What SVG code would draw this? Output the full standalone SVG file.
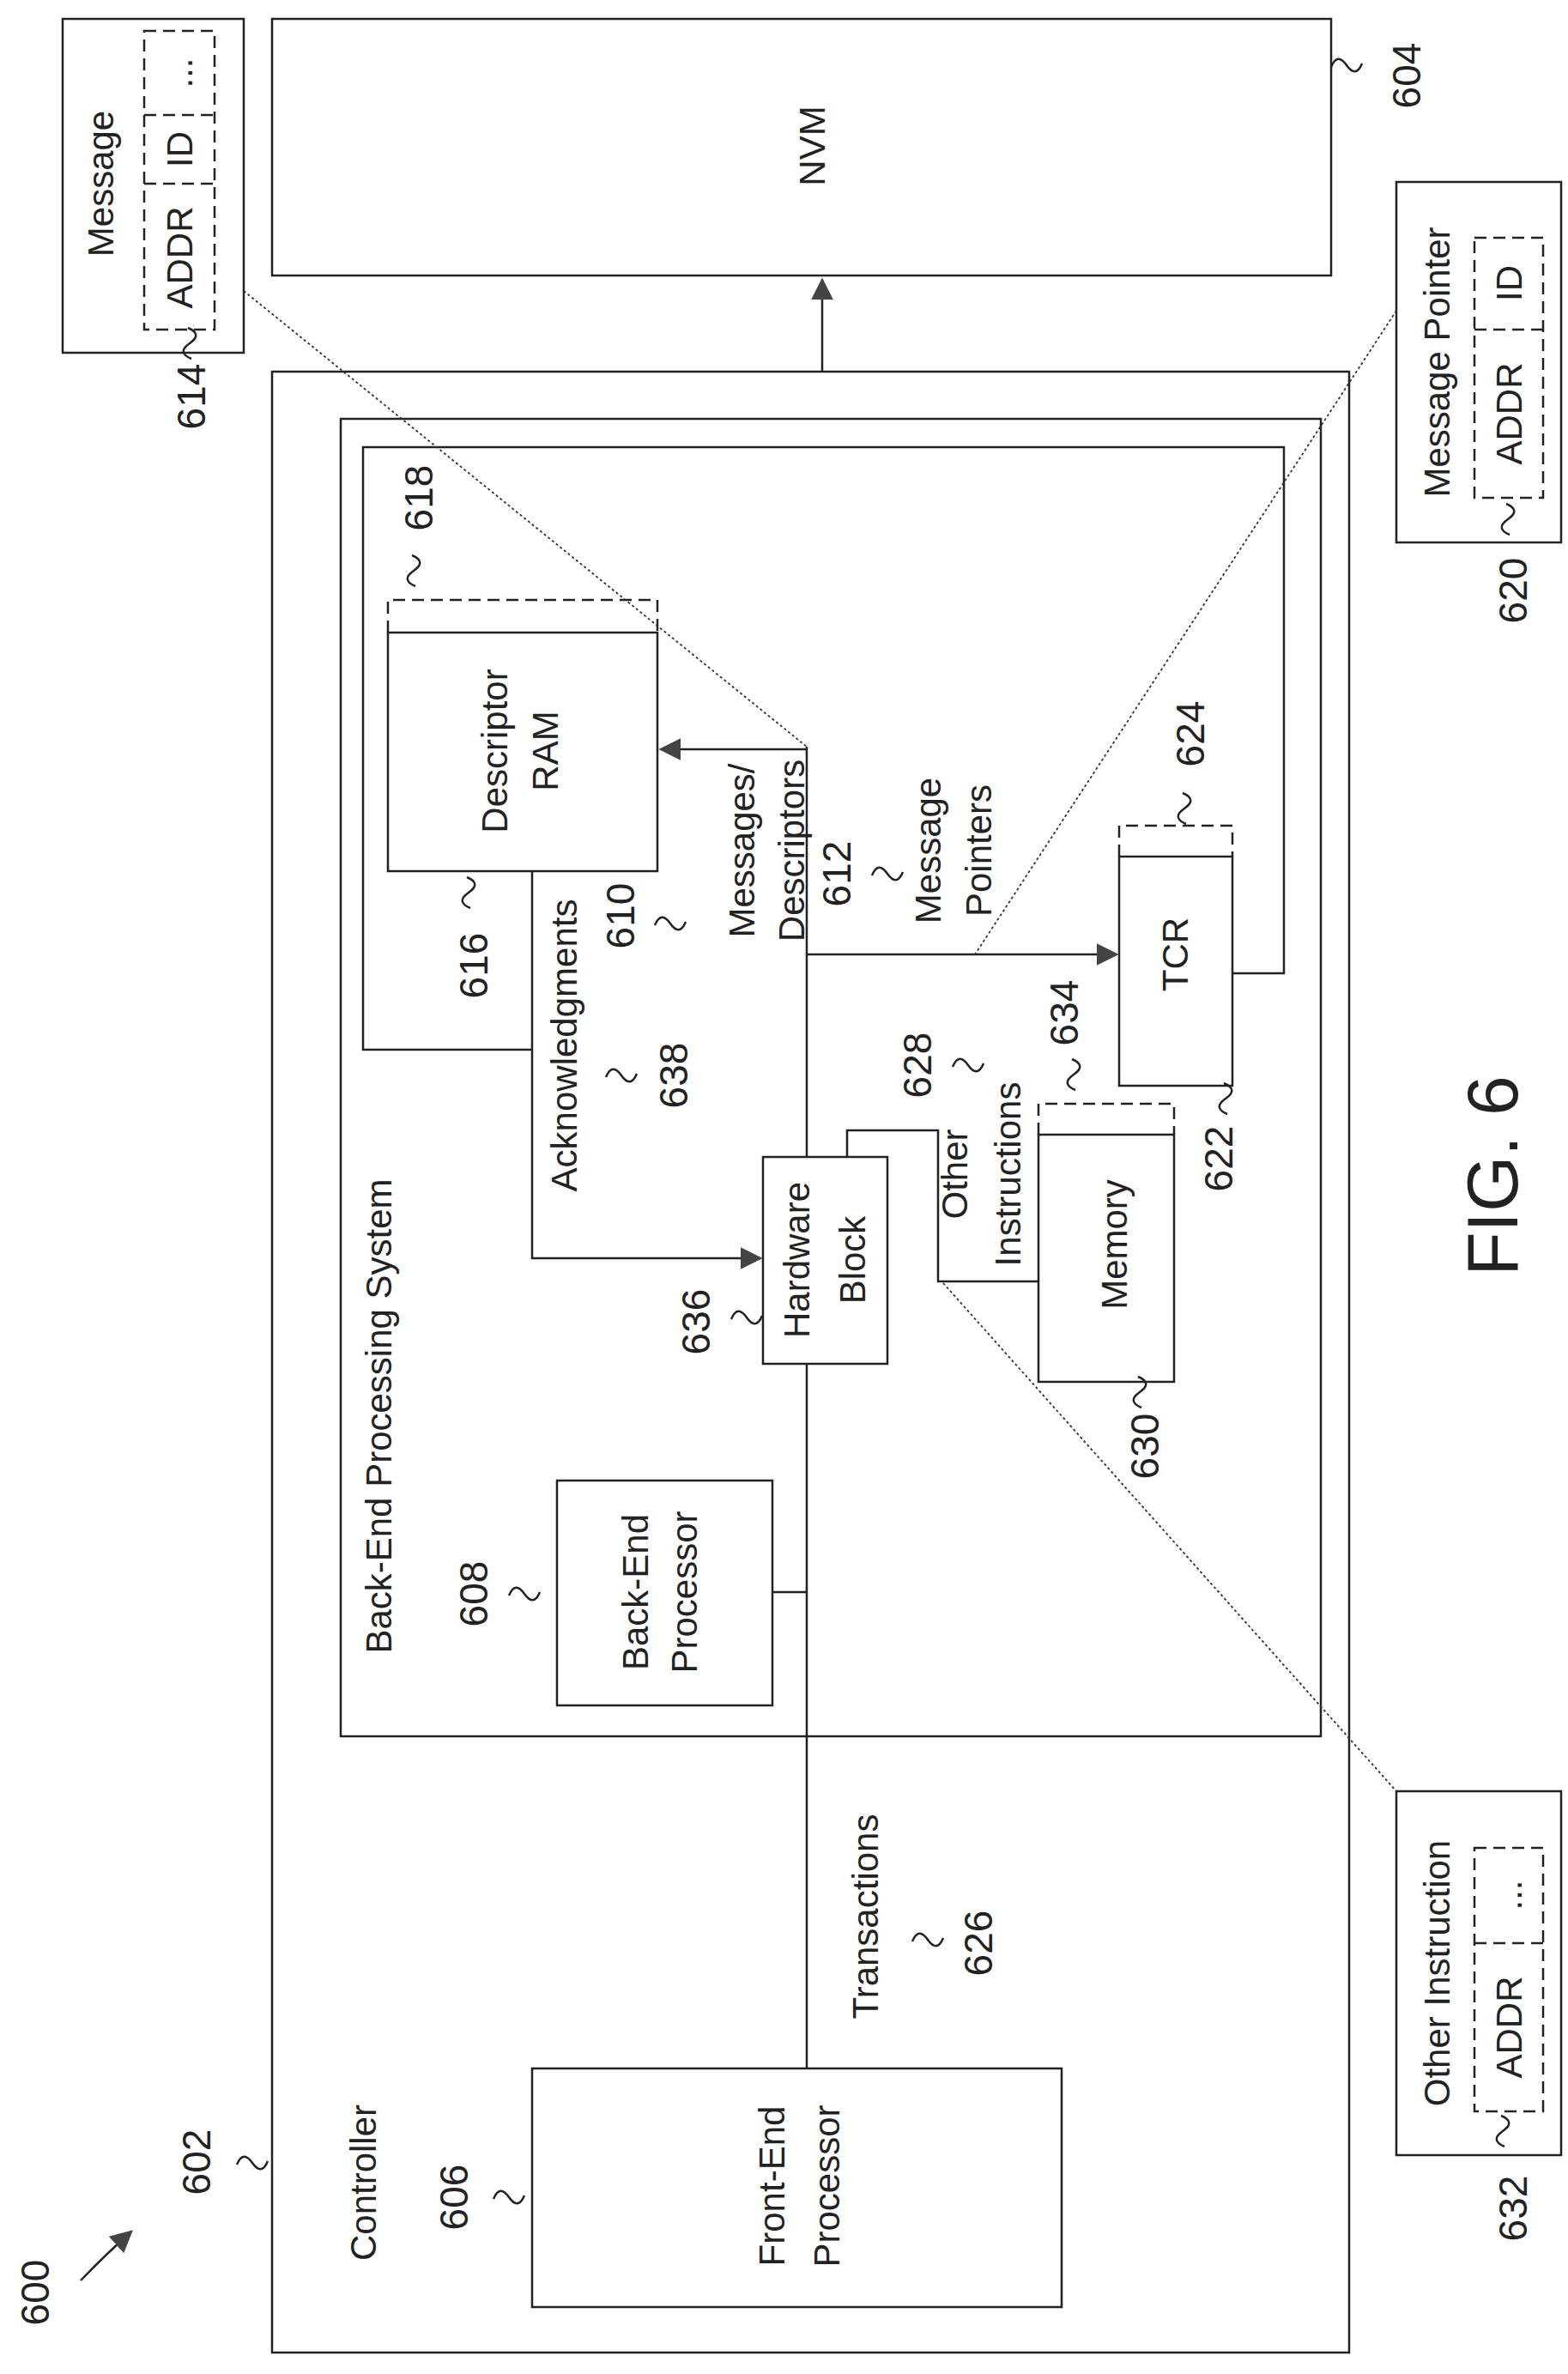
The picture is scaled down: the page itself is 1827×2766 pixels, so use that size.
<svg xmlns="http://www.w3.org/2000/svg" width="1827" height="2766" viewBox="0 0 1827 2766">
<style>
.b{fill:none;stroke:#222;stroke-width:2.5}
.d{fill:none;stroke:#222;stroke-width:2.5;stroke-dasharray:14 8}
.o{fill:none;stroke:#333;stroke-width:1.8;stroke-dasharray:3 3}
.l{fill:none;stroke:#222;stroke-width:2.5}
.s{fill:none;stroke:#222;stroke-width:2.5}
text{font-family:"Liberation Sans",Arial,sans-serif;font-size:42px;fill:#222;text-anchor:middle;dominant-baseline:central}
.n{font-size:46px}
.f{font-size:84px}
</style>
<defs>
<marker id="A" viewBox="0 0 10 10" refX="9" refY="5" markerWidth="26" markerHeight="26" markerUnits="userSpaceOnUse" orient="auto"><path d="M0,0L10,5L0,10z" fill="#444"/></marker>
<path id="t" d="M-18,2c5,-12 11,-12 18,-2s13,10 18,-2" fill="none" stroke="#222" stroke-width="2.5"/>
</defs>
<g id="nvm"><rect class="b" x="317" y="22" width="1234" height="299"/><text transform="translate(946,170) rotate(-90)">NVM</text></g>
<g id="controller"><rect class="b" x="317" y="433" width="1255" height="2308"/><text transform="translate(423,2543) rotate(-90)">Controller</text></g>
<g id="beps"><rect class="b" x="397" y="488" width="1142" height="1535"/><text transform="translate(441,1650) rotate(-90)">Back-End Processing System</text></g>
<g id="descram"><rect class="b" x="452" y="737" width="314" height="278"/><path class="d" d="M452,737V699H766V737"/><text transform="translate(576,875) rotate(-90)">Descriptor</text><text transform="translate(635,875) rotate(-90)">RAM</text></g>
<g id="tcr"><rect class="b" x="1304" y="998" width="132" height="267"/><path class="d" d="M1304,998V962H1436V998"/><text transform="translate(1369,1112) rotate(-90)">TCR</text></g>
<g id="memory"><rect class="b" x="1210" y="1322" width="158" height="288"/><path class="d" d="M1210,1322V1286H1368V1322"/><text transform="translate(1298,1450) rotate(-90)">Memory</text></g>
<g id="hwblock"><rect class="b" x="889" y="1348" width="145" height="241"/><text transform="translate(928,1468) rotate(-90)">Hardware</text><text transform="translate(993,1468) rotate(-90)">Block</text></g>
<g id="beproc"><rect class="b" x="649" y="1725" width="251" height="262"/><text transform="translate(740,1855) rotate(-90)">Back-End</text><text transform="translate(797,1855) rotate(-90)">Processor</text></g>
<g id="feproc"><rect class="b" x="620" y="2410" width="617" height="278"/><text transform="translate(899,2547) rotate(-90)">Front-End</text><text transform="translate(963,2547) rotate(-90)">Processor</text></g>
<g id="message"><rect class="b" x="73" y="22" width="211" height="389"/><text transform="translate(117,214) rotate(-90)">Message</text><rect class="d" x="168" y="36" width="82" height="348"/><path class="d" d="M168,214H250M168,134H250"/><text transform="translate(209,300) rotate(-90)">ADDR</text><text transform="translate(209,174) rotate(-90)">ID</text><text transform="translate(209,85) rotate(-90)">...</text></g>
<g id="msgptr"><rect class="b" x="1627" y="212" width="192" height="420"/><text transform="translate(1674,422) rotate(-90)">Message Pointer</text><rect class="d" x="1718" y="277" width="80" height="303"/><path class="d" d="M1718,384H1798"/><text transform="translate(1758,482) rotate(-90)">ADDR</text><text transform="translate(1758,330) rotate(-90)">ID</text></g>
<g id="otherinstr"><rect class="b" x="1627" y="2087" width="192" height="424"/><text transform="translate(1674,2299) rotate(-90)">Other Instruction</text><rect class="d" x="1718" y="2153" width="80" height="307"/><path class="d" d="M1718,2264H1798"/><text transform="translate(1758,2362) rotate(-90)">ADDR</text><text transform="translate(1758,2208) rotate(-90)">...</text></g>
<g id="connectors">
<path class="l" d="M958,433V326" marker-end="url(#A)"/>
<path class="l" d="M940,870V1348M940,1589V2410M940,1855H900"/>
<path class="l" d="M940,873H770" marker-end="url(#A)"/>
<path class="l" d="M940,1112H1301" marker-end="url(#A)"/>
<path class="l" d="M620,1015V1466H886" marker-end="url(#A)"/>
<path class="l" d="M620,1223H423V521H1496V1134H1436"/>
<path class="l" d="M987,1348V1317H1093V1493H1210"/>
<path class="o" d="M284,339L940,870"/>
<path class="o" d="M1627,362L1136,1112"/>
<path class="o" d="M1099,1495L1627,2087"/>
<path class="l" d="M94,2657Q125,2625 153,2600" marker-end="url(#A)"/>
</g>
<g id="labels">
<use href="#t" transform="translate(221,400) rotate(90)"/><text class="n" transform="translate(223,462) rotate(-90)">614</text>
<use href="#t" transform="translate(1569,76)"/><text class="n" transform="translate(1639,88) rotate(-90)">604</text>
<use href="#t" transform="translate(482,665) rotate(90)"/><text class="n" transform="translate(488,580) rotate(-90)">618</text>
<use href="#t" transform="translate(546,1040) rotate(90)"/><text class="n" transform="translate(552,1125) rotate(-90)">616</text>
<use href="#t" transform="translate(781,1076)"/><text class="n" transform="translate(723,1067) rotate(-90)">610</text>
<text transform="translate(864,991) rotate(-90)">Messages/</text><text transform="translate(922,991) rotate(-90)">Descriptors</text>
<use href="#t" transform="translate(1034,1018)"/><text class="n" transform="translate(975,1018) rotate(-90)">612</text>
<text transform="translate(1081,991) rotate(-90)">Message</text><text transform="translate(1140,991) rotate(-90)">Pointers</text>
<use href="#t" transform="translate(1380,942) rotate(90)"/><text class="n" transform="translate(1387,855) rotate(-90)">624</text>
<use href="#t" transform="translate(1428,1280) rotate(90)"/><text class="n" transform="translate(1420,1350) rotate(-90)">622</text>
<use href="#t" transform="translate(1251,1252) rotate(90)"/><text class="n" transform="translate(1240,1180) rotate(-90)">634</text>
<text transform="translate(657,1218) rotate(-90)">Acknowledgments</text>
<use href="#t" transform="translate(724,1253)"/><text class="n" transform="translate(785,1253) rotate(-90)">638</text>
<use href="#t" transform="translate(1128,1241)"/><text class="n" transform="translate(1069,1241) rotate(-90)">628</text>
<text transform="translate(1112,1368) rotate(-90)">Other</text><text transform="translate(1174,1368) rotate(-90)">Instructions</text>
<use href="#t" transform="translate(1328,1622) rotate(90)"/><text class="n" transform="translate(1334,1685) rotate(-90)">630</text>
<use href="#t" transform="translate(870,1535)"/><text class="n" transform="translate(811,1540) rotate(-90)">636</text>
<use href="#t" transform="translate(611,1857)"/><text class="n" transform="translate(552,1857) rotate(-90)">608</text>
<text transform="translate(1008,2233) rotate(-90)">Transactions</text>
<use href="#t" transform="translate(1081,2260)"/><text class="n" transform="translate(1140,2264) rotate(-90)">626</text>
<use href="#t" transform="translate(593,2560)"/><text class="n" transform="translate(529,2560) rotate(-90)">606</text>
<use href="#t" transform="translate(294,2520)"/><text class="n" transform="translate(229,2519) rotate(-90)">602</text>
<text class="n" transform="translate(41,2671) rotate(-90)">600</text>
<use href="#t" transform="translate(1757,605) rotate(90)"/><text class="n" transform="translate(1763,688) rotate(-90)">620</text>
<use href="#t" transform="translate(1751,2483) rotate(90)"/><text class="n" transform="translate(1763,2573) rotate(-90)">632</text>
<text class="f" transform="translate(1739,1370) rotate(-90)">FIG. 6</text>
</g>
</svg>
